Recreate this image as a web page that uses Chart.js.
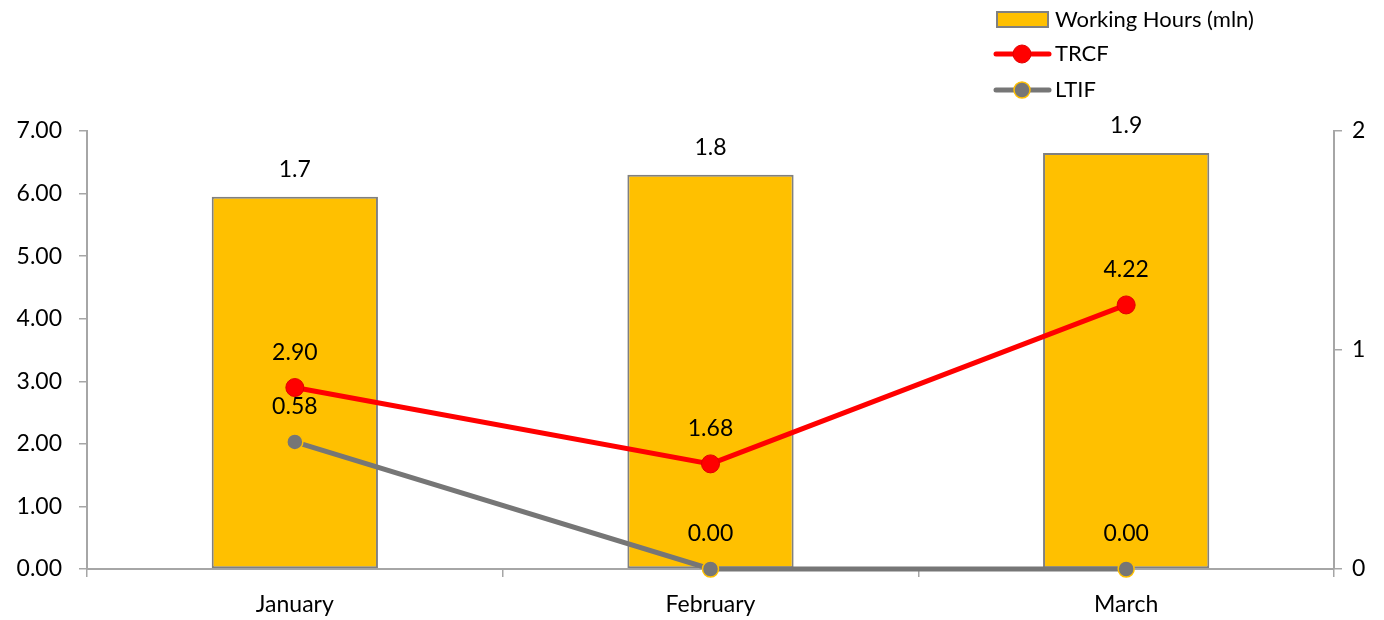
<!DOCTYPE html>
<html>
<head>
<meta charset="utf-8">
<script src="https://cdn.jsdelivr.net/npm/chart.js@4.4.1/dist/chart.umd.min.js"></script>
<style>
  html, body { margin: 0; padding: 0; background: #fff; }
  #wrap { width: 1384px; height: 620px; }
</style>
</head>
<body>
<div id="wrap"><canvas id="chart" width="1384" height="620"></canvas></div>
<script>
const months = ['January', 'February', 'March'];
const workingHours = [1.7, 1.8, 1.9];
const trcf = [2.90, 1.68, 4.22];
const ltif = [0.58, 0.00, 0.00];
const leftTicks = [0, 1, 2, 3, 4, 5, 6, 7];
const rightTicks = [0, 1, 2];

const FONT = 'Lato, "Open Sans", sans-serif';
const AXIS_GREY = '#a6a6a6';

// --- value labels drawn above each mark ---
const valueLabels = {
    id: 'valueLabels',
    afterDatasetsDraw(chart) {
        const ctx = chart.ctx;
        ctx.save();
        ctx.font = '23px ' + FONT;
        ctx.fillStyle = '#000';
        ctx.textAlign = 'center';
        ctx.textBaseline = 'middle';
        chart.data.datasets.forEach((ds, i) => {
            const meta = chart.getDatasetMeta(i);
            meta.data.forEach((el, j) => {
                const v = ds.data[j];
                const txt = ds.type === 'bar' ? v.toFixed(1) : v.toFixed(2);
                ctx.fillText(txt, el.x, el.y - ds.labelOffset);
            });
        });
        ctx.restore();
    }
};

// --- legend in the top right corner, stacked ---
const stackedLegend = {
    id: 'stackedLegend',
    afterDraw(chart) {
        const ctx = chart.ctx;
        const ds = chart.data.datasets;
        ctx.save();
        ctx.font = '22px ' + FONT;
        ctx.textBaseline = 'middle';
        ctx.fillStyle = '#000';

        // bar entry
        ctx.fillStyle = ds[2].backgroundColor;
        ctx.fillRect(997, 12, 51, 15);
        ctx.strokeStyle = ds[2].borderColor;
        ctx.lineWidth = 2;
        ctx.strokeRect(997, 12, 51, 15);
        ctx.fillStyle = '#000';
        ctx.fillText(ds[2].label, 1055, 20);

        // line entries
        [[ds[0], 54], [ds[1], 90]].forEach(([d, y]) => {
            ctx.strokeStyle = d.borderColor;
            ctx.lineWidth = 5;
            ctx.lineCap = 'round';
            ctx.beginPath();
            ctx.moveTo(996, y);
            ctx.lineTo(1049, y);
            ctx.stroke();
            ctx.beginPath();
            ctx.arc(1022, y, d.pointRadius, 0, Math.PI * 2);
            ctx.fillStyle = d.pointBackgroundColor;
            ctx.fill();
            ctx.lineWidth = d.pointBorderWidth;
            ctx.strokeStyle = d.pointBorderColor;
            ctx.stroke();
            ctx.fillStyle = '#000';
            ctx.fillText(d.label, 1055, y);
        });
        ctx.restore();
    }
};

const ctx = document.getElementById('chart').getContext('2d');
new Chart(ctx, {
    data: {
        labels: months,
        datasets: [
            {
                type: 'line', label: 'TRCF', data: trcf, yAxisID: 'y',
                borderColor: '#ff0000', borderWidth: 5,
                pointRadius: 9, pointBackgroundColor: '#ff0000',
                pointBorderColor: '#e00000', pointBorderWidth: 1,
                order: 1, clip: false, labelOffset: 35
            },
            {
                type: 'line', label: 'LTIF', data: ltif, yAxisID: 'y1',
                borderColor: '#767676', borderWidth: 5,
                pointRadius: 8, pointBackgroundColor: '#767676',
                pointBorderColor: '#ffc000', pointBorderWidth: 1.5,
                order: 2, clip: false, labelOffset: 35
            },
            {
                type: 'bar', label: 'Working Hours (mln)', data: workingHours, yAxisID: 'y1',
                backgroundColor: '#ffc000', borderColor: '#808080', borderWidth: 2,
                borderSkipped: false,
                barPercentage: 0.4, categoryPercentage: 1.0,
                order: 3, labelOffset: 27
            }
        ]
    },
    options: {
        responsive: false,
        animation: false,
        layout: { padding: { top: 131, right: 0, left: 0, bottom: 0 } },
        plugins: {
            legend: { display: false },
            tooltip: { enabled: false },
            title: { display: false }
        },
        scales: {
            x: {
                offset: true,
                grid: { display: true, offset: true, drawOnChartArea: false, drawTicks: true, tickLength: 8, color: AXIS_GREY, lineWidth: 1.5 },
                border: { display: true, color: AXIS_GREY, width: 2 },
                ticks: { color: '#000', font: { family: FONT, size: 23 }, padding: 14 },
                afterFit: s => { s.height = 51; }
            },
            y: {
                position: 'left', min: 0, max: 7,
                afterBuildTicks: s => { s.ticks = leftTicks.map(v => ({ value: v })); },
                grid: { drawOnChartArea: false, drawTicks: true, tickLength: 8, color: AXIS_GREY, lineWidth: 1.5 },
                border: { display: true, color: AXIS_GREY, width: 2 },
                ticks: { color: '#000', font: { family: FONT, size: 23 }, padding: 17, callback: v => v.toFixed(2) },
                afterFit: s => { s.width = 87; }
            },
            y1: {
                position: 'right', min: 0, max: 2,
                afterBuildTicks: s => { s.ticks = rightTicks.map(v => ({ value: v })); },
                grid: { drawOnChartArea: false, drawTicks: true, tickLength: 8, color: AXIS_GREY, lineWidth: 1.5 },
                border: { display: true, color: AXIS_GREY, width: 2 },
                ticks: { color: '#000', font: { family: FONT, size: 23 }, padding: 10, callback: v => String(v) },
                afterFit: s => { s.width = 50; }
            }
        }
    },
    plugins: [valueLabels, stackedLegend]
});
</script>
</body>
</html>
